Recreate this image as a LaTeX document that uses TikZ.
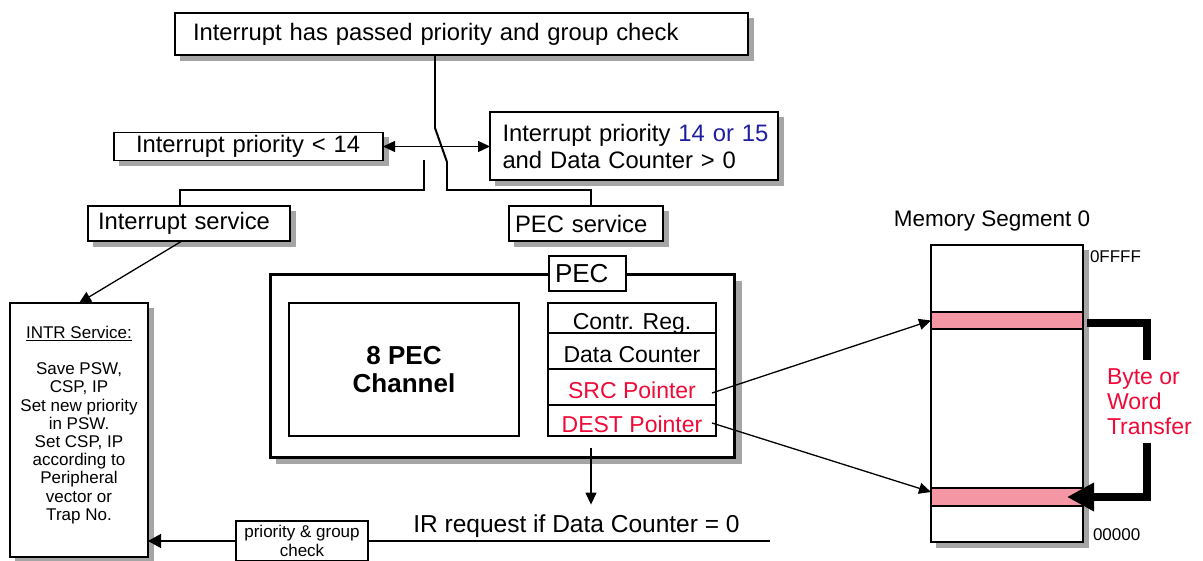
\documentclass[tikz,border=0pt]{standalone}
\usepackage{fontspec}
\setmainfont{Liberation Sans}
\usetikzlibrary{arrows.meta,calc}
\definecolor{pecred}{RGB}{240,10,55}
\definecolor{pecblue}{RGB}{30,30,160}
\definecolor{band}{RGB}{245,150,165}
\definecolor{shadowgray}{RGB}{165,165,165}

\begin{document}
\begin{tikzpicture}[x=1pt,y=-1pt,
  every node/.style={inner sep=0pt, outer sep=0pt},
  frame/.style={draw, fill=white, line width=1.3pt},
  shadowbox/.style={fill=shadowgray, draw=none},
  big/.style={font=\fontsize{23.8}{27}\selectfont},
  small/.style={font=\fontsize{17}{18.2}\selectfont},
  reg/.style={draw, line width=1.3pt, minimum width=168pt,
    font=\fontsize{23}{25}\selectfont, text height=25pt, text depth=1pt},
  wire/.style={line width=1.3pt},
  arr/.style={wire, -{Triangle[length=12pt,width=11pt]}},
  bigarr/.style={wire, -{Triangle[length=13pt,width=14pt]}},
]
\useasboundingbox (0,0) rectangle (1203,561);

% ---- drop shadows, drawn first so the boxes cover them ---------------
\path[shadowbox] (180,18) rectangle (754,61);     % top box
\path[shadowbox] (119,137) rectangle (389,166);   % priority < 14
\path[shadowbox] (495,117) rectangle (784,186);   % priority 14/15
\path[shadowbox] (93,211) rectangle (296,247);    % interrupt service
\path[shadowbox] (514,211) rectangle (669,247);   % PEC service
\path[shadowbox] (15,308) rectangle (154,562);    % INTR service
\path[shadowbox] (276,281) rectangle (742,464);   % PEC block
\path[shadowbox] (936,250) rectangle (1089,548);  % memory segment

% ---- decision part -------------------------------------------------
\node[frame,big,text width=537pt,inner xsep=18pt,align=left,
      minimum height=42pt] (top) at (461.5,34)
  {Interrupt has passed priority and group check};
\node[frame,big,text width=225pt,inner xsep=22pt,align=left,
      minimum height=28pt] (low) at (248.5,146.5) {Interrupt priority < 14};
\node[frame,big,text width=277pt,inner xsep=5.5pt,align=left,
      minimum height=68pt] (high) at (634,146)
  {\hspace*{7pt}Interrupt priority \textcolor{pecblue}{14 or 15}\\\hspace*{7pt}and Data Counter > 0};
\node[frame,big,text width=182pt,inner xsep=10pt,align=left,
      minimum height=35pt] (intsvc) at (189,223.5) {Interrupt service};
\node[frame,big,text width=142pt,inner xsep=6pt,align=left,
      minimum height=35pt] (pecsvc) at (586,223.5) {PEC service};

\draw[wire,{Triangle[length=12pt,width=11pt]}-{Triangle[length=12pt,width=11pt]}]
  (low.east) -- (low.east -| high.west);

% switch
\coordinate (swA) at (435,128);
\coordinate (swB) at (447,162);
\coordinate (swL) at (424,160);
\coordinate (bus) at (0,190);
\draw[wire] (top.south -| swA) -- (swA);
\draw[line width=2pt] (swA) -- (swB);
\draw[wire] (swB) -- (swB |- bus) -| ([xshift=5pt]pecsvc.north);
\draw[wire] (swL) -- (swL |- bus) -| ([xshift=-9pt]intsvc.north);

% ---- interrupt service routine --------------------------------------
\node[frame,minimum width=138pt,minimum height=254pt] (intr) at (79,430) {};
\node[small,align=center,anchor=north] (intrtxt) at (79,326)
  {\underline{INTR Service:}\\[18.2pt]Save PSW,\\CSP, IP\\Set new priority\\in PSW.\\Set CSP, IP\\according to\\Peripheral\\vector or\\Trap No.};
\draw[arr] ([xshift=-7pt]intsvc.south) -- (intr.north);

% ---- PEC block -------------------------------------------------------
\node[draw,fill=white,line width=3pt,
      minimum width=464pt,minimum height=182pt] (pec) at (502,366) {};
\node[draw,fill=white,line width=2pt,minimum height=35pt,
      font=\fontsize{26}{28}\selectfont,text width=65pt,inner xsep=6pt,align=left]
  (peclbl) at (587.5,273.5) {PEC};
\node[draw,line width=1.3pt,minimum width=230pt,minimum height=133pt,
      font=\bfseries\fontsize{26}{28}\selectfont,align=center] (chan) at (404,369.5)
  {8 PEC\\Channel};
\node[reg,minimum height=30pt] (creg) at (632,318) {Contr. Reg.};
\node[reg,minimum height=36pt] (dcnt) at (632,351) {Data Counter};
\node[reg,minimum height=36pt,text=pecred] (srcp) at (632,387) {SRC Pointer};
\node[reg,minimum height=31pt,text=pecred] (destp) at (632,420.5) {DEST Pointer};

% ---- memory segment ---------------------------------------------------
\node[font=\fontsize{22.5}{24}\selectfont] (memttl) at (992,221) {Memory Segment 0};
\node[frame,minimum width=152pt,minimum height=297pt] (mem) at (1007,393.5) {};
\node[draw,fill=band,line width=1.3pt,minimum width=152pt,minimum height=17pt]
  (upband) at (1007,320.5) {};
\node[draw,fill=band,line width=1.3pt,minimum width=152pt,minimum height=18pt]
  (loband) at (1007,497) {};
\node[small,anchor=west] (hiaddr) at (1090,257) {0FFFF};
\node[small,anchor=west] (loaddr) at (1093,535) {00000};

\draw[arr] ([xshift=-4pt,yshift=-6pt]srcp.east) -- (upband.west);
\draw[arr] ([xshift=-4pt,yshift=-2.5pt]destp.east) -- ([yshift=5pt]loband.west);

% transfer bracket
\draw[line width=8pt] ([xshift=4pt,yshift=-3pt]upband.east) -- ++(60,0) -- ++(0,37);
\draw[line width=8pt,-{Triangle[length=27pt,width=27pt]}]
  (1147,443) |- ([xshift=-16pt]loband.east);
\node[font=\fontsize{23}{25}\selectfont,text=pecred,align=left,anchor=north west]
  (xfer) at (1107,369) {Byte or\\Word\\Transfer};

% ---- interrupt request path ------------------------------------------
\node[font=\fontsize{24.5}{27}\selectfont] (ir) at (576.5,526) {IR request if Data Counter = 0};
\coordinate (irtop) at ($(ir.north)+(14.5,-10)$);
\draw[arr] ($(pec.south -| irtop)+(0,-9)$) -- (irtop);

\node[draw,fill=white,line width=1.3pt,small,align=center,minimum width=132pt,
      minimum height=40pt] (chk) at (302,541) {priority \& group\\check};
\coordinate (irend) at (770,541);
\draw[wire] (chk.east) -- (irend);
\draw[bigarr] (chk.west) -- (chk.west -| intr.east);
\end{tikzpicture}
\end{document}
